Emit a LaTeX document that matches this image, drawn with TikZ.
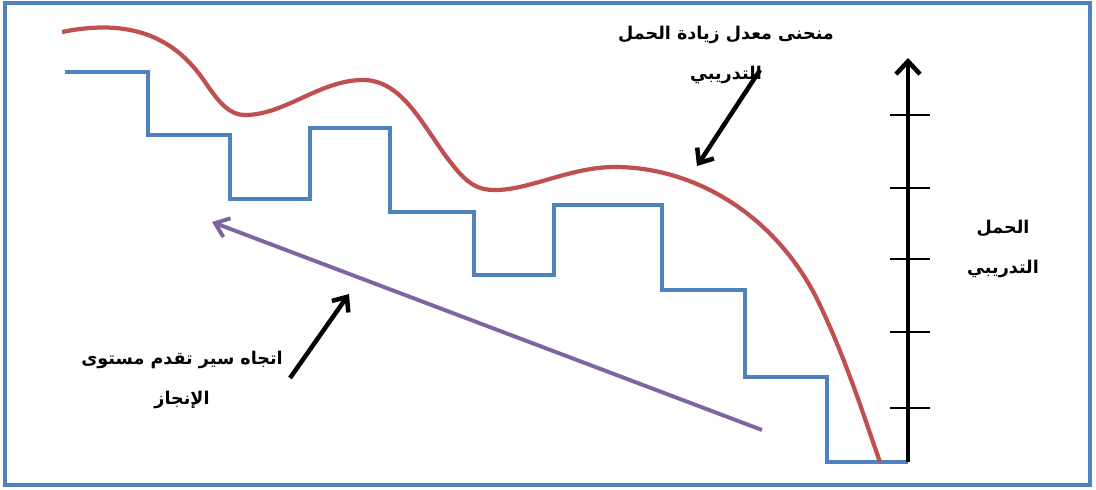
\documentclass[tikz,border=0pt]{standalone}
\usepackage{fontspec}
\newfontfamily\arabicfont[Script=Arabic]{DejaVu Sans}
\TeXXeTstate=1
\usetikzlibrary{arrows.meta,calc,positioning}
\definecolor{stairblue}{HTML}{4F81BD}
\definecolor{curvered}{HTML}{C0504D}
\definecolor{trendpurple}{HTML}{8064A2}
\tikzset{
  frame/.style     = {draw=stairblue, line width=3.5pt},
  stairs/.style    = {draw=stairblue, line width=3pt, line join=miter},
  loadcurve/.style = {draw=curvered, line width=3pt},
  trend/.style     = {draw=trendpurple, line width=2.8pt, -{Straight Barb[length=3.2mm,width=5mm]}},
  pointer/.style   = {line width=3.2pt, -{Straight Barb[length=3mm,width=5mm]}},
  loadaxis/.style  = {line width=3.2pt, -{Straight Barb[length=3.2mm,width=6mm]}},
  tick/.style      = {line width=1pt},
  label/.style     = {font=\arabicfont\bfseries\fontsize{12.5}{28}\selectfont, align=center},
}
\begin{document}
\begin{tikzpicture}[x=0.025cm, y=-0.025cm]
  \useasboundingbox (0,0) rectangle (1096,489);

  % ---- outer frame -------------------------------------------------------
  \draw[frame] (5,3) rectangle (1090,485);

  % ---- staircase of load steps ------------------------------------------
  \draw[stairs] (65,72) -- (148,72) |- (230,135) |- (310,199) |- (390,128)
    |- (474,212) |- (554,275) |- (662,205) |- (745,290) |- (827,377)
    |- (908,462);

  % ---- curve of the load increase ---------------------------------------
  \draw[loadcurve] (62,32) .. controls (140,16) and (180,45) .. (205,82)
    .. controls (220,104) and (230,115) .. (245,115)
    .. controls (285,115) and (320,80) .. (363,80)
    .. controls (400,80) and (420,120) .. (445,155)
    .. controls (465,182) and (475,190) .. (495,190)
    .. controls (530,190) and (570,167) .. (615,167)
    .. controls (690,167) and (770,210) .. (815,295)
    .. controls (845,355) and (865,420) .. (880,462);

  % ---- load axis with its ticks -----------------------------------------
  \coordinate (axisfoot) at (908,462);
  \coordinate (axistop) at (908,58);
  \draw[loadaxis] (axisfoot) -- (axistop);
  \foreach \y in {115,188,259,332,408} {
    \draw[tick] (890,\y) -- (930,\y);
  }

  % ---- trend of the achievement level -----------------------------------
  \coordinate (trendstart) at (762,430);
  \coordinate (trendend) at (212,222);
  \draw[trend] (trendstart) -- (trendend);

  % ---- labels ------------------------------------------------------------
  \node[label] (curvelabel) at (726,55)
    {\beginR منحنى معدل زيادة الحمل\endR\\\beginR التدريبي\endR};
  \node[label] (trendlabel) at (182,380)
    {\beginR اتجاه سير تقدم مستوى\endR\\\beginR الإنجاز\endR};
  \node[label] (axislabel) at (1003,249)
    {\beginR الحمل\endR\\\beginR التدريبي\endR};

  % ---- pointers from the labels -----------------------------------------
  \coordinate (curvetip) at (697,166);
  \coordinate (trendtip) at (349,294);
  \draw[pointer] (760,70) -- (curvetip);
  \draw[pointer] (290,378) -- (trendtip);
\end{tikzpicture}
\end{document}
